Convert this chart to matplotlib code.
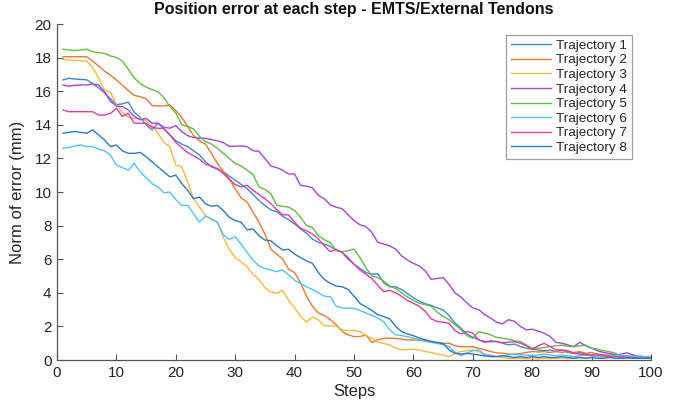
import matplotlib
matplotlib.use("Agg")
import matplotlib.pyplot as plt
import numpy as np

plt.rcParams['font.family'] = ['Liberation Sans', 'DejaVu Sans']

steps = list(range(1, 101))

traj1 = [16.67, 16.77, 16.72, 16.70, 16.68, 16.45, 16.2, 15.9, 15.55, 15.2,
         15.25, 15.35, 14.75, 14.45, 14.0, 13.7, 14.1, 13.75, 13.4, 13.05,
         12.85, 12.7, 12.45, 12.2, 11.8, 11.5, 11.35, 11.2, 10.95, 10.7,
         10.45, 10.2, 9.85, 9.5, 9.2, 8.93, 8.83, 8.55, 8.35, 8.1,
         7.8, 7.55, 7.2, 7.0, 6.9, 6.75, 6.55, 6.4, 6.0, 5.7,
         5.46, 5.2, 5.1, 5.15, 4.6, 4.36, 4.36, 4.2, 3.95, 3.7,
         3.5, 3.35, 3.25, 3.1, 2.98, 2.65, 2.2, 1.9, 1.55, 1.35,
         1.2, 1.1, 1.08, 1.1, 1.0, 0.9, 0.95, 0.8, 0.7, 0.65,
         0.6, 0.55, 0.6, 0.5, 0.6, 0.45, 0.4, 0.45, 0.35, 0.3,
         0.35, 0.3, 0.25, 0.3, 0.2, 0.25, 0.2, 0.15, 0.2, 0.15]

traj2 = [18.05, 18.05, 18.05, 18.05, 18.05, 17.8, 17.5, 17.2, 16.95, 16.67,
         16.35, 16.05, 15.75, 15.67, 15.55, 15.15, 15.12, 15.12, 15.18, 14.85,
         14.45, 13.9, 13.35, 13.05, 12.85, 12.3, 11.7, 11.2, 10.8, 10.2,
         9.65, 9.4, 8.8, 8.2, 7.5, 6.6, 6.3, 6.0, 5.4, 5.2,
         4.6, 3.8, 3.2, 2.8, 2.65, 2.4, 2.1, 1.7, 1.5, 1.39,
         1.4, 1.48, 1.05, 1.2, 1.29, 1.3, 1.28, 1.25, 1.19, 1.2,
         1.18, 1.19, 1.1, 1.0, 0.99, 1.0, 0.85, 0.79, 0.8, 0.78,
         0.7, 0.6, 0.5, 0.43, 0.4, 0.36, 0.35, 0.38, 0.45, 0.5,
         0.48, 0.5, 0.45, 0.5, 0.45, 0.5, 0.45, 0.5, 0.4, 0.45,
         0.35, 0.3, 0.3, 0.25, 0.25, 0.2, 0.2, 0.15, 0.15, 0.1]

traj3 = [17.9, 17.85, 17.85, 17.8, 17.8, 17.4, 16.8, 16.05, 15.95, 15.2,
         14.75, 14.45, 14.38, 14.38, 14.25, 13.95, 13.5, 12.95, 12.7, 11.6,
         11.5, 10.6, 9.6, 9.1, 8.6, 8.35, 8.2, 7.3, 6.6, 6.1,
         5.85, 5.55, 5.1, 4.8, 4.3, 4.05, 3.97, 4.15, 3.55, 3.1,
         2.6, 2.25, 2.55, 2.4, 2.05, 2.02, 2.02, 1.8, 1.75, 1.75,
         1.7, 1.45, 1.3, 1.05, 0.99, 0.9, 0.72, 0.6, 0.62, 0.64,
         0.6, 0.5, 0.45, 0.35, 0.3, 0.2, 0.4, 0.5, 0.55, 0.6,
         0.5, 0.35, 0.25, 0.2, 0.15, 0.1, 0.1, 0.1, 0.08, 0.1,
         0.08, 0.1, 0.1, 0.1, 0.12, 0.1, 0.1, 0.15, 0.1, 0.15,
         0.2, 0.15, 0.2, 0.2, 0.15, 0.2, 0.2, 0.15, 0.15, 0.1]

traj4 = [16.37, 16.3, 16.35, 16.37, 16.37, 16.43, 16.37, 15.95, 15.4, 15.12,
         15.08, 14.88, 14.5, 14.3, 14.38, 14.1, 14.09, 13.85, 13.8, 13.95,
         13.6, 13.35, 13.25, 13.2, 13.2, 13.12, 13.05, 12.94, 12.72, 12.72,
         12.74, 12.7, 12.46, 12.42, 12.0, 11.55, 11.45, 11.3, 11.07, 11.07,
         10.4, 10.35, 10.25, 9.8, 9.6, 9.23, 9.1, 9.0, 8.65, 8.3,
         8.05, 7.94, 7.6, 7.0, 6.9, 6.8, 6.6, 6.2, 5.95, 5.75,
         5.6, 5.3, 4.8, 4.85, 4.9, 4.5, 4.0, 3.75, 3.4, 3.1,
         3.0, 2.7, 2.5, 2.25, 2.15, 2.4, 2.3, 2.0, 1.8, 1.83,
         1.72, 1.6, 1.4, 1.05, 1.0, 0.9, 0.8, 1.05, 0.85, 0.7,
         0.55, 0.45, 0.4, 0.3, 0.35, 0.43, 0.3, 0.2, 0.2, 0.2]

traj5 = [18.5, 18.45, 18.42, 18.45, 18.5, 18.35, 18.3, 18.25, 18.1, 18.0,
         17.8, 17.3, 16.8, 16.45, 16.25, 16.1, 15.97, 15.6, 15.1, 14.7,
         14.0, 13.9, 13.75, 13.3, 13.0, 12.85, 12.6, 12.3, 12.0, 11.7,
         11.55, 11.3, 11.05, 10.3, 10.15, 9.9, 9.2, 9.15, 9.1, 8.9,
         8.5, 8.0, 7.9, 7.4, 7.15, 7.0, 6.5, 6.45, 6.5, 6.6,
         6.1, 5.5, 5.0, 4.9, 4.7, 4.4, 4.26, 4.0, 3.75, 3.55,
         3.37, 3.3, 3.2, 2.85, 2.6, 2.4, 2.1, 1.8, 1.45, 1.3,
         1.68, 1.6, 1.5, 1.35, 1.3, 1.23, 1.15, 1.1, 0.9, 0.7,
         0.7, 0.75, 0.8, 0.85, 0.88, 0.82, 0.79, 0.85, 0.89, 0.7,
         0.65, 0.55, 0.5, 0.4, 0.2, 0.22, 0.2, 0.18, 0.15, 0.15]

traj6 = [12.6, 12.65, 12.75, 12.8, 12.7, 12.7, 12.55, 12.45, 12.2, 11.6,
         11.45, 11.3, 11.7, 11.2, 10.85, 10.5, 10.3, 9.95, 10.0, 9.55,
         9.2, 9.2, 8.7, 8.2, 8.57, 8.4, 8.2, 7.45, 7.18, 7.34,
         6.9, 6.4, 5.95, 5.6, 5.45, 5.36, 5.26, 5.36, 5.06, 4.75,
         4.55, 4.36, 4.2, 4.0, 3.8, 3.77, 3.2, 3.1, 3.08, 3.08,
         2.95, 2.8, 2.65, 2.5, 2.28, 1.8, 1.5, 1.45, 1.39, 1.3,
         1.2, 1.1, 1.05, 0.99, 0.9, 0.8, 0.45, 0.26, 0.4, 0.55,
         0.6, 0.3, 0.3, 0.2, 0.25, 0.3, 0.35, 0.3, 0.3, 0.25,
         0.3, 0.35, 0.3, 0.25, 0.3, 0.25, 0.2, 0.25, 0.3, 0.25,
         0.2, 0.25, 0.2, 0.25, 0.3, 0.25, 0.2, 0.25, 0.2, 0.2]

traj7 = [14.88, 14.78, 14.78, 14.78, 14.78, 14.78, 14.58, 14.58, 14.68, 14.98,
         14.5, 14.68, 14.09, 14.09, 14.09, 13.85, 13.79, 13.79, 13.4, 12.95,
         12.65, 12.35, 12.15, 11.95, 11.65, 11.55, 11.4, 11.1, 10.75, 10.45,
         10.3, 10.4, 10.1, 9.85, 9.6, 9.3, 8.95, 8.65, 8.63, 8.2,
         7.84, 7.7, 7.5, 7.2, 6.8, 6.45, 6.59, 6.4, 6.1, 5.7,
         5.36, 5.1, 4.85, 4.45, 4.07, 4.15, 4.0, 3.8, 3.55, 3.37,
         3.2, 2.9, 2.45, 2.3, 2.25, 2.18, 1.75, 1.55, 1.7, 1.6,
         1.2, 1.05, 1.15, 1.1, 1.03, 1.06, 1.09, 1.0, 0.85, 0.64,
         0.85, 0.99, 0.8, 0.6, 0.6, 0.55, 0.4, 0.35, 0.32, 0.3,
         0.3, 0.25, 0.2, 0.2, 0.18, 0.15, 0.15, 0.12, 0.1, 0.1]

traj8 = [13.5, 13.55, 13.6, 13.55, 13.5, 13.7, 13.4, 13.1, 12.7, 12.8,
         12.45, 12.3, 12.3, 12.36, 12.1, 11.8, 11.5, 11.2, 10.9, 11.0,
         10.5, 10.1, 9.6, 9.7, 9.3, 9.15, 9.2, 8.9, 8.5, 8.3,
         8.2, 7.75, 7.8, 7.4, 7.14, 7.1, 6.8, 6.55, 6.59, 6.3,
         6.1, 5.9, 5.75, 5.2, 4.8, 4.56, 4.4, 4.36, 4.2, 3.8,
         3.37, 3.17, 2.95, 2.7, 2.58, 2.45, 2.0, 1.7, 1.55, 1.45,
         1.3, 1.2, 1.1, 1.05, 0.99, 0.6, 0.4, 0.35, 0.4, 0.35,
         0.3, 0.25, 0.2, 0.2, 0.25, 0.2, 0.15, 0.2, 0.15, 0.2,
         0.15, 0.2, 0.15, 0.15, 0.2, 0.15, 0.1, 0.15, 0.1, 0.15,
         0.1, 0.1, 0.15, 0.1, 0.1, 0.12, 0.1, 0.1, 0.1, 0.1]

series = [traj1, traj2, traj3, traj4, traj5, traj6, traj7, traj8]
labels = ['Trajectory 1', 'Trajectory 2', 'Trajectory 3', 'Trajectory 4',
          'Trajectory 5', 'Trajectory 6', 'Trajectory 7', 'Trajectory 8']
colors = ['#3f8ad6', '#ec7632', '#f6b93a', '#a047e3',
          '#62bd44', '#4fc4f5', '#e33aa8', '#2f78c6']

title = 'Position error at each step - EMTS/External Tendons'
xlabel = 'Steps'
ylabel = 'Norm of error (mm)'
xticks = [0, 10, 20, 30, 40, 50, 60, 70, 80, 90, 100]
yticks = [0, 2, 4, 6, 8, 10, 12, 14, 16, 18, 20]

fig = plt.figure(figsize=(6.73, 4.04), dpi=100)
ax = fig.add_axes([57/673, 44/404, (651-57)/673, (360-24)/404])

for s, lab, c in zip(series, labels, colors):
    ax.plot(steps, s, color=c, lw=1.0, label=lab)

ax.set_xlim(0, 100)
ax.set_ylim(0, 20)
ax.set_xticks(xticks)
ax.set_yticks(yticks)
axc = '#262626'
for sp in ['top', 'right']:
    ax.spines[sp].set_visible(False)
for sp in ['left', 'bottom']:
    ax.spines[sp].set_color('#555555')
    ax.spines[sp].set_linewidth(0.9)
ax.tick_params(direction='in', length=4, width=0.8, color='#555555',
               labelsize=11, labelcolor=axc, pad=4)
ax.set_xlabel(xlabel, fontsize=12, color=axc, labelpad=3)
ax.set_ylabel(ylabel, fontsize=12, color=axc, labelpad=7)
ax.set_title(title, fontsize=11.5, fontweight='bold', color='#111111', pad=7)

leg = ax.legend(loc='upper right', bbox_to_anchor=(0.975, 0.98), fontsize=9.7,
                frameon=True, fancybox=False, handlelength=3.0,
                handletextpad=0.4, labelspacing=0.16, borderpad=0.35,
                borderaxespad=0.3)
leg.get_frame().set_edgecolor('#888888')
leg.get_frame().set_linewidth(0.9)
for t in leg.get_texts():
    t.set_color(axc)

fig.savefig('out.png', dpi=100)
